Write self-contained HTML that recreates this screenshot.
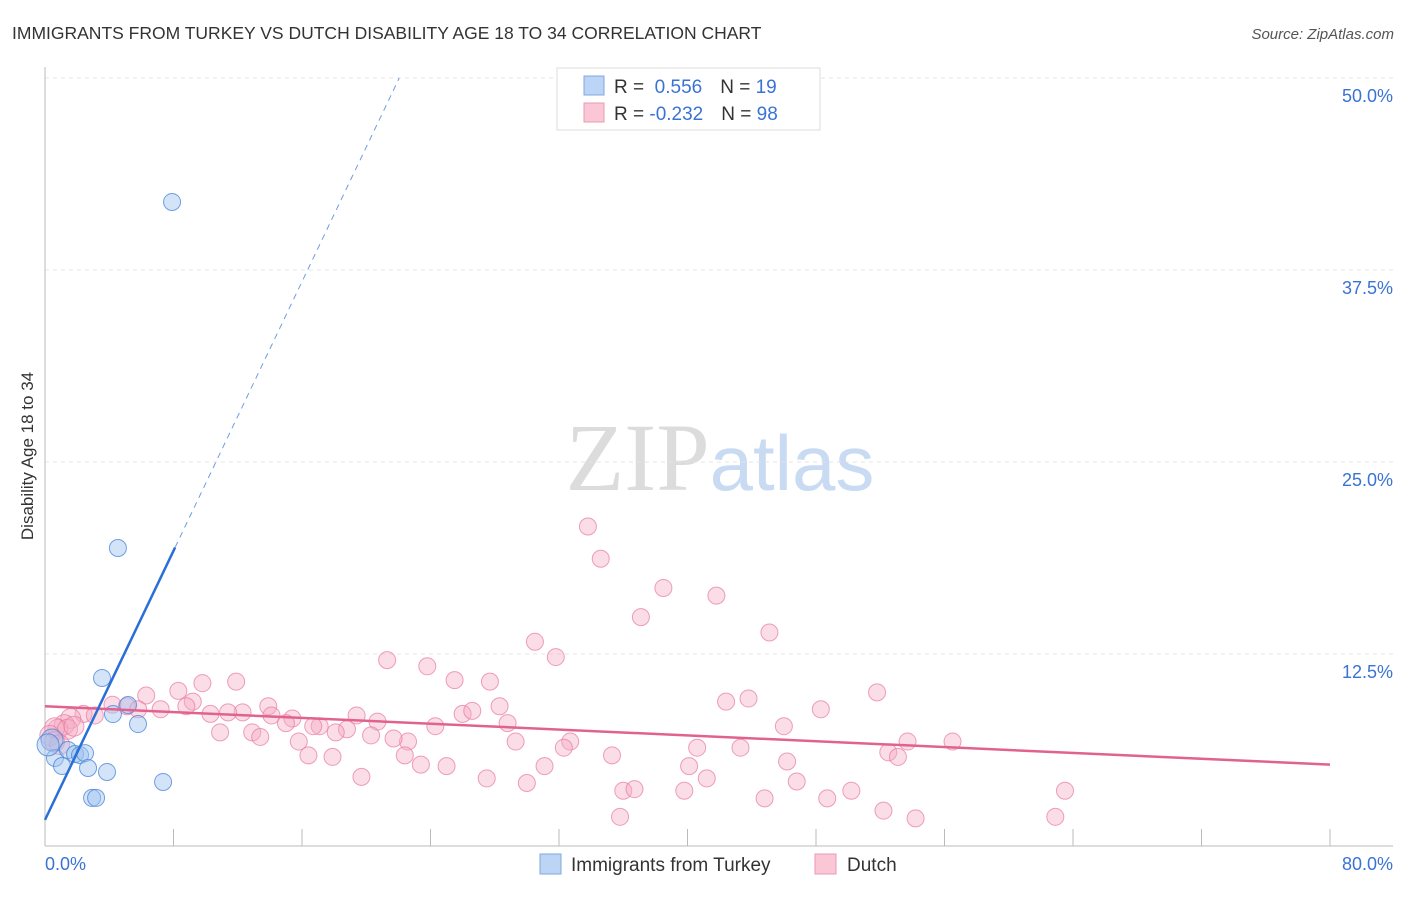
<!DOCTYPE html>
<html><head><meta charset="utf-8"><style>
body{margin:0;background:#fff;font-family:"Liberation Sans",sans-serif;}
</style></head><body>
<svg id="chart" width="1406" height="892" xmlns="http://www.w3.org/2000/svg" font-family="Liberation Sans, sans-serif">
<text x="12" y="39" font-size="17.5" fill="#333">IMMIGRANTS FROM TURKEY VS DUTCH DISABILITY AGE 18 TO 34 CORRELATION CHART</text>
<text x="1394" y="39" font-size="15" fill="#555" text-anchor="end" font-style="italic">Source: ZipAtlas.com</text>
<text x="720" y="490" text-anchor="middle" font-size="96"><tspan font-family="Liberation Serif, serif" fill="#dcdcdc">ZIP</tspan><tspan fill="#c9dbf3" font-size="78">atlas</tspan></text>
<text transform="translate(33,456) rotate(-90)" text-anchor="middle" font-size="17" fill="#333">Disability Age 18 to 34</text>
<g id="grid"></g><g id="axes"></g><g id="marks"></g>
<g>
<rect x="557" y="68" width="263" height="62" fill="#fff" stroke="#ddd"/>
<rect x="584" y="76" width="20" height="19" fill="#bcd4f5" stroke="#7fa8e0"/>
<rect x="584" y="103" width="20" height="19" fill="#f9c7d6" stroke="#eb9ab4"/>
<text x="614" y="93" font-size="19" fill="#333">R = <tspan fill="#3a73d4">&#160;0.556</tspan><tspan dx="18" fill="#333">N = </tspan><tspan fill="#3a73d4">19</tspan></text>
<text x="614" y="120" font-size="19" fill="#333">R = <tspan fill="#3a73d4">-0.232</tspan><tspan dx="18" fill="#333">N = </tspan><tspan fill="#3a73d4">98</tspan></text>
</g>
<g>
<rect x="540" y="854" width="21" height="20" fill="#bcd4f5" stroke="#7fa8e0"/>
<text x="571" y="871" font-size="19" fill="#333">Immigrants from Turkey</text>
<rect x="815" y="854" width="21" height="20" fill="#f9c7d6" stroke="#eb9ab4"/>
<text x="847" y="871" font-size="19" fill="#333">Dutch</text>
</g>
</svg>
<script>
const yTicks=[12.5,25,37.5,50];
const yTickLabels=["12.5%","25.0%","37.5%","50.0%"];
const xTickCount=10;
const xLabels=["0.0%","80.0%"];
const turkeyX=[7.91,4.54,3.55,5.17,4.23,5.79,0.44,0.62,1.06,1.43,1.87,2.18,2.49,2.68,3.86,7.35,2.93,3.18,0.19];
const turkeyY=[41.93,19.4,10.94,9.18,8.59,7.94,6.9,5.73,5.21,6.25,5.99,5.92,6.05,5.08,4.82,4.17,3.13,3.13,6.58];
const dutchX=[33.8,34.6,38.5,37.1,41.8,45.1,30.5,31.8,21.3,23.8,25.5,27.7,11.9,9.8,8.3,6.3,51.8,43.8,42.4,28.3,48.3,13.9,9.2,4.2,5.1,5.8,7.2,8.8,10.3,12.3,11.4,14.1,15.4,15.0,17.1,16.7,18.8,18.1,19.4,20.7,24.3,26.0,26.6,28.8,46.0,10.9,12.9,13.4,20.3,15.8,22.6,21.7,29.3,32.7,32.3,35.3,40.6,43.3,52.5,53.1,53.7,56.5,16.4,17.9,22.4,23.4,25.0,31.1,40.1,46.2,19.7,27.5,30.0,41.2,46.8,36.0,36.7,39.8,44.8,48.7,50.2,52.2,54.2,35.8,62.9,63.5,2.4,3.1,1.6,1.2,0.8,0.6,0.3,1.4,1.8,0.6,0.9];
const dutchY=[20.8,18.7,16.8,14.9,16.3,13.9,13.3,12.3,12.1,11.7,10.8,10.7,10.7,10.6,10.1,9.8,10.0,9.6,9.4,9.1,8.9,9.1,9.4,9.2,9.1,8.9,8.9,9.1,8.6,8.7,8.7,8.5,8.3,8.0,7.8,7.8,7.6,7.4,8.5,8.1,7.8,8.6,8.8,8.0,7.8,7.4,7.4,7.1,7.2,6.8,6.8,7.0,6.8,6.8,6.4,5.9,6.4,6.4,6.1,5.8,6.8,6.8,5.9,5.8,5.9,5.3,5.2,5.2,5.2,5.5,4.5,4.4,4.1,4.4,4.2,3.6,3.7,3.6,3.1,3.1,3.6,2.3,1.8,1.9,1.9,3.6,8.6,8.5,8.3,7.9,7.6,7.7,7.2,7.6,7.8,6.8,6.6];
const turkeyFit=[1.7,2.19];
const dutchFit=[9.1,-0.0475];
const NS="http://www.w3.org/2000/svg";
const X0=45,X1=1330,Y0=846,YS=15.36;
const xs=v=>X0+v/80*(X1-X0);
const ys=v=>Y0-v*YS;
function mk(tag,attrs,parent){const e=document.createElementNS(NS,tag);for(const k in attrs)e.setAttribute(k,attrs[k]);parent.appendChild(e);return e;}
const grid=document.getElementById('grid'),axes=document.getElementById('axes'),marks=document.getElementById('marks');
yTicks.forEach((t,i)=>{
 const l=mk('line',{x1:X0,x2:1393,y1:ys(t),y2:ys(t),stroke:'#e4e4e4','stroke-dasharray':'4,4'},grid);
 
 
 const tx=mk('text',{x:1393,y:ys(t)+24,'text-anchor':'end','font-size':18,fill:'#3a73d4'},grid);
 tx.textContent=yTickLabels[i];
 
 
});
const ya=mk('line',{x1:X0,x2:X0,y1:67,y2:Y0,stroke:'#bbb'},axes);


const xa=mk('line',{x1:X0,x2:1393,y1:Y0,y2:Y0,stroke:'#bbb'},axes);


for(let i=1;i<=xTickCount;i++){const v=80*i/xTickCount;
 const t=mk('line',{x1:xs(v),x2:xs(v),y1:Y0-17,y2:Y0,stroke:'#bbb'},axes);
 
 }
const xl0=mk('text',{x:X0,y:870,'font-size':18,fill:'#3a73d4'},axes);xl0.textContent=xLabels[0];


const xl1=mk('text',{x:1393,y:870,'font-size':18,fill:'#3a73d4','text-anchor':'end'},axes);xl1.textContent=xLabels[1];


dutchX.forEach((x,i)=>{
 const c=mk('circle',{cx:xs(x),cy:ys(dutchY[i]),r:x<2?10:8.5,fill:'rgba(246,170,196,0.4)',stroke:'rgba(232,120,160,0.7)','stroke-width':1},marks);
 
 
});
turkeyX.forEach((x,i)=>{
 const c=mk('circle',{cx:xs(x),cy:ys(turkeyY[i]),r:x<0.5?11:8.5,fill:'rgba(160,195,240,0.45)',stroke:'rgba(70,130,215,0.75)','stroke-width':1},marks);
 
 
});
const dl=mk('line',{x1:xs(0),y1:ys(dutchFit[0]),x2:xs(80),y2:ys(dutchFit[0]+dutchFit[1]*80),stroke:'#e2628f','stroke-width':2.5},marks);


const xMaxSolid=8.1,xEnd=(50-turkeyFit[0])/turkeyFit[1];
const tl=mk('line',{x1:xs(0),y1:ys(turkeyFit[0]),x2:xs(xMaxSolid),y2:ys(turkeyFit[0]+turkeyFit[1]*xMaxSolid),stroke:'#2a6fd6','stroke-width':2.5},marks);


const td=mk('line',{x1:xs(xMaxSolid),y1:ys(turkeyFit[0]+turkeyFit[1]*xMaxSolid),x2:xs(xEnd),y2:ys(50),stroke:'#6f9de0','stroke-width':1,'stroke-dasharray':'6,5'},marks);


</script>
</body></html>
